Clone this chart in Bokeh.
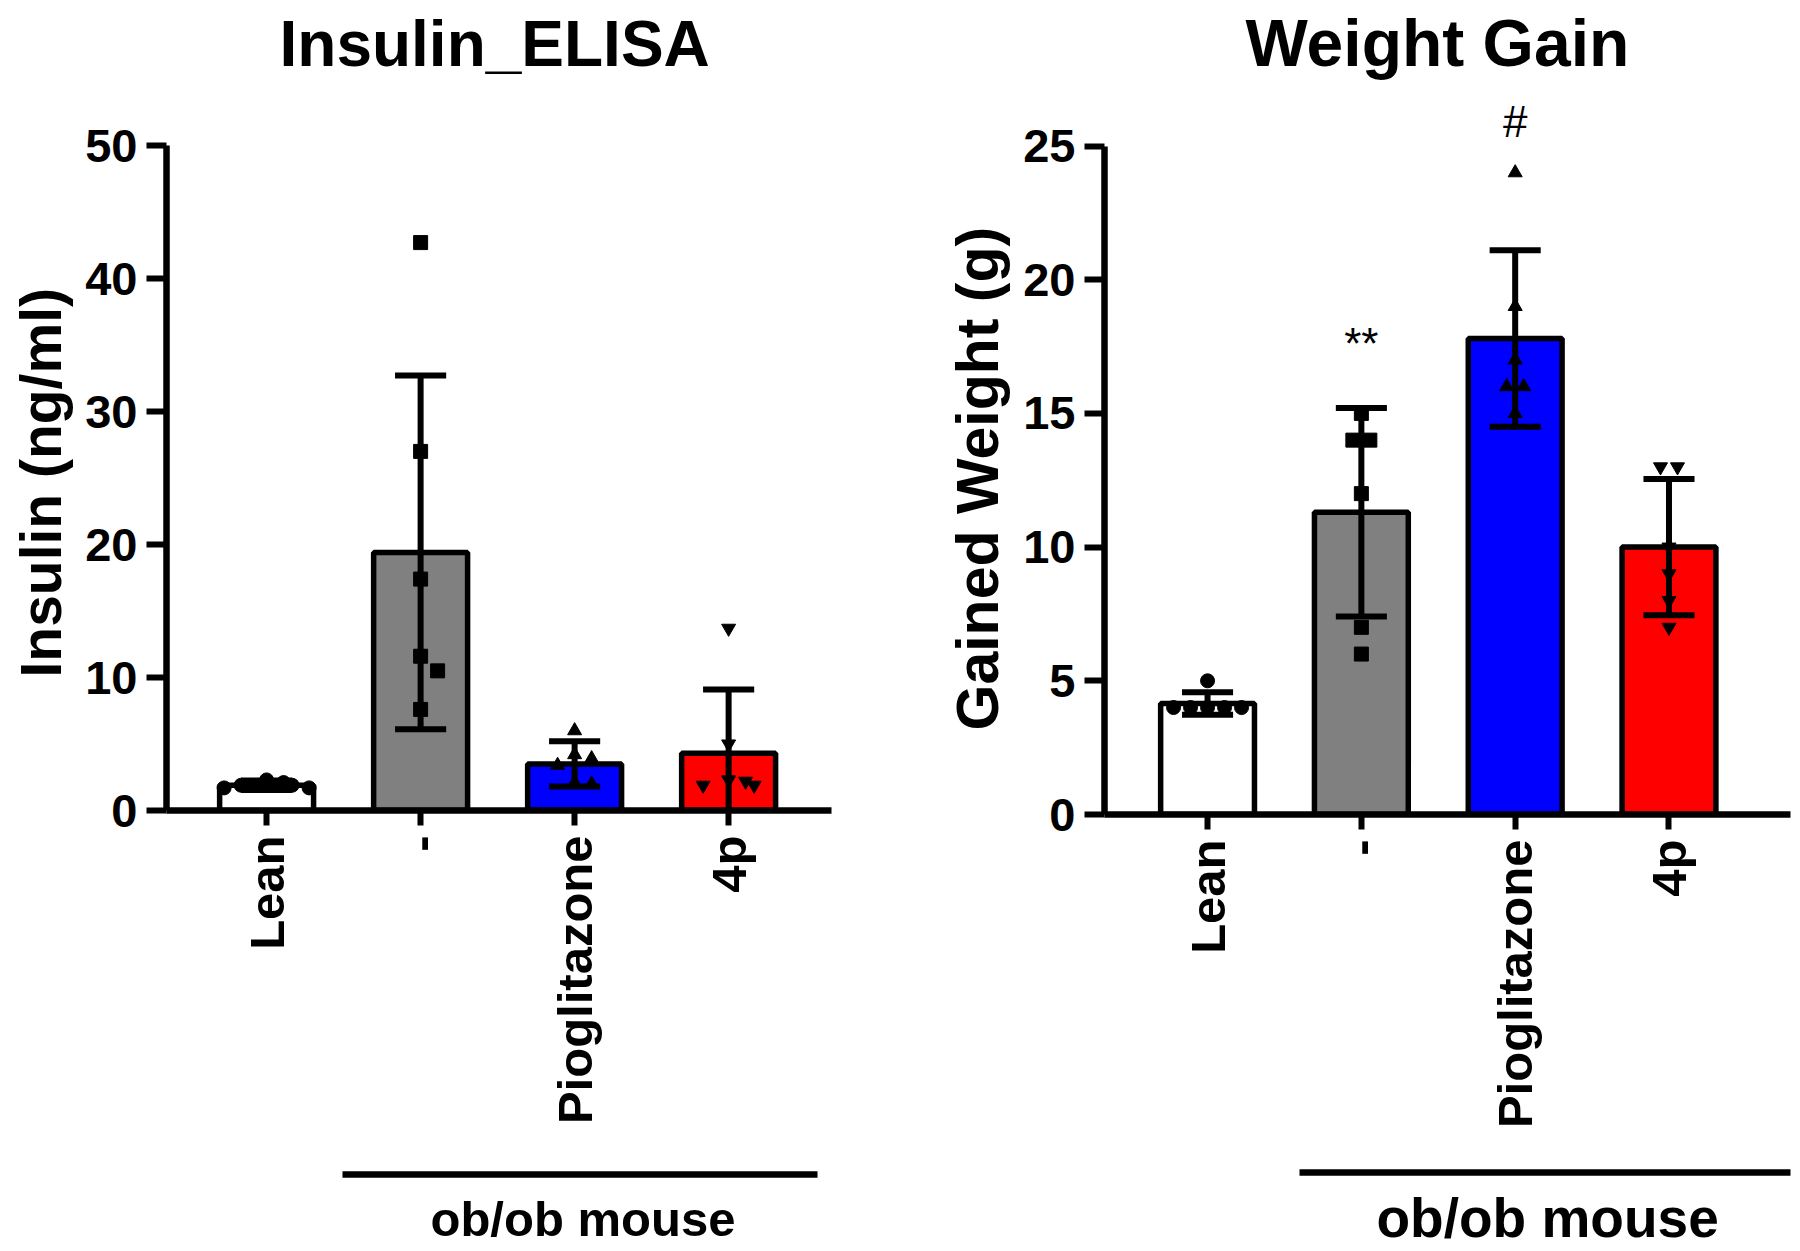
import math
import numpy as np
from bokeh.plotting import figure
from bokeh.models import FixedTicker, LinearAxis, Range1d, ColumnDataSource, Title
from bokeh.layouts import row
from bokeh.embed import file_html
from bokeh.resources import INLINE
from bokeh.core.properties import value

# ---------------- data ----------------
groups = ["Lean", "-", "Pioglitazone", "4p"]
bar_colors = ["#FFFFFF", "#808080", "#0000FF", "#FF0000"]
markers = ["circle", "square", "triangle", "inverted_triangle"]
group_caption = "ob/ob mouse"

# Insulin ELISA (ng/ml)
ins_lean = [2.1, 1.9, 1.7, 1.7, 1.9, 2.3]
ins_veh = [42.7, 27.0, 17.4, 11.6, 10.5, 7.6]
ins_pio = [6.0, 4.2, 3.9, 3.4, 2.1, 2.0]
ins_4p = [13.7, 5.0, 2.2, 1.9, 1.9, 2.3]
ins_mean = [1.9, 19.4, 3.5, 4.3]
ins_sd = [0.35, 13.3, 1.7, 4.8]
ins_ticks = [0, 10, 20, 30, 40, 50]

# Weight gain (g)
wg_lean = [5, 4, 4, 4, 4, 4]
wg_veh = [15, 14, 14, 12, 7, 6]
wg_pio = [24, 19, 17, 16, 16, 15]
wg_4p = [13, 13, 10, 9, 8, 7]
wg_mean = [4.15, 11.3, 17.8, 10.0]
wg_sd = [0.42, 3.9, 3.3, 2.55]
wg_ticks = [0, 5, 10, 15, 20, 25]
wg_sig = ["", "**", "#", ""]
wg_sig_y = [None, 17.6, 25.9, None]

FONT = "Liberation Sans"


def swarm(vals, px_per_unit, d):
    """Simple beeswarm: horizontal pixel offsets so markers do not overlap."""
    vals = np.asarray(vals, dtype=float)
    order = np.argsort(-vals, kind="stable")
    placed = []
    offs = np.zeros(len(vals))
    cands = [0.0]
    for j in range(1, 12):
        cands += [j * d, -j * d]
    for i in order:
        y = vals[i] * px_per_unit
        for c in cands:
            if all((c - px) ** 2 + (y - py) ** 2 >= (d * 0.98) ** 2 for py, px in placed):
                break
        offs[i] = c
        placed.append((y, c))
    for v in np.unique(vals):
        m = vals == v
        if m.sum() > 1:
            offs[m] -= offs[m].mean()
    return offs


def build(cfg, pts, means, sds, sig=None, sig_y=None):
    x_start, x_end = cfg["xr"]
    frame_w, frame_h, y_end = cfg["fw"], cfg["fh"], cfg["yend"]
    p = figure(frame_width=frame_w, frame_height=frame_h,
               x_range=Range1d(x_start, x_end), y_range=Range1d(0, y_end),
               output_backend="svg", toolbar_location=None,
               min_border_left=cfg["bl"], min_border_right=cfg["br"],
               min_border_top=cfg["bt"], min_border_bottom=0)
    p.xgrid.visible = False
    p.ygrid.visible = False
    p.outline_line_color = None
    p.background_fill_color = "white"
    p.border_fill_color = "white"

    p.title.text = cfg["title"]
    p.title.text_font = FONT
    p.title.text_font_size = cfg["title_size"]
    p.title.text_font_style = "bold"
    p.title.text_color = "black"
    p.title.align = "left"
    p.title.offset = cfg["title_off"]
    p.title.standoff = 0

    px_per_unit = frame_h / y_end
    px_per_x = frame_w / (x_end - x_start)
    idx = list(range(len(groups)))
    lo = [m - s for m, s in zip(means, sds)]
    hi = [m + s for m, s in zip(means, sds)]
    cap = 0.166
    src = ColumnDataSource(dict(x=idx, top=means, color=bar_colors, lo=lo, hi=hi,
                                xl=[i - cap for i in idx], xr=[i + cap for i in idx]))
    p.vbar(x="x", top="top", bottom=0, width=0.61, fill_color="color",
           line_color="black", line_width=5.5, source=src)
    p.segment(x0="x", y0="lo", x1="x", y1="hi", line_color="black", line_width=6, source=src)
    p.segment(x0="xl", y0="hi", x1="xr", y1="hi", line_color="black", line_width=6, source=src)
    p.segment(x0="xl", y0="lo", x1="xr", y1="lo", line_color="black", line_width=6, source=src)

    for i, vals in enumerate(pts):
        offs = swarm(vals, px_per_unit, 17.0) / px_per_x
        p.scatter(x=[i + o for o in offs], y=vals, marker=markers[i], size=14,
                  fill_color="black", line_color="black", line_width=1)

    if sig is not None:
        sx = [i for i in idx if sig[i]]
        p.text(x=sx, y=[sig_y[i] for i in sx], text=[sig[i] for i in sx],
               text_font=value(FONT), text_font_size=value("44px"),
               text_align="center", text_baseline="alphabetic", text_color="black")

    yax = p.yaxis[0]
    yax.ticker = FixedTicker(ticks=cfg["ticks"])
    yax.bounds = (0, cfg["ytop"])
    yax.major_label_text_font = FONT
    yax.major_label_text_font_size = "47px"
    yax.major_label_text_font_style = "bold"
    yax.major_label_text_color = "black"
    yax.major_label_standoff = 9
    yax.major_tick_out = 20
    yax.major_tick_in = 0
    yax.minor_tick_out = 0
    yax.minor_tick_in = 0
    yax.axis_line_width = 6.5
    yax.major_tick_line_width = 6
    yax.axis_line_color = "black"
    yax.major_tick_line_color = "black"

    xax = p.xaxis[0]
    xax.ticker = FixedTicker(ticks=idx)
    xax.major_label_overrides = {i: g for i, g in enumerate(groups)}
    xax.major_label_orientation = math.pi / 2
    xax.major_label_text_font = FONT
    xax.major_label_text_font_size = "49px"
    xax.major_label_text_font_style = "bold"
    xax.major_label_text_color = "black"
    xax.major_label_standoff = 10
    xax.major_tick_out = 15
    xax.major_tick_in = 0
    xax.minor_tick_out = 0
    xax.minor_tick_in = 0
    xax.axis_line_width = 6.5
    xax.major_tick_line_width = 6
    xax.axis_line_color = "black"
    xax.major_tick_line_color = "black"
    xax.axis_label = " "
    xax.axis_label_text_font_size = "20px"
    xax.axis_label_standoff = cfg["gap"]

    # group bar ("ob/ob mouse" line) as a bounded axis rule
    grp = LinearAxis(ticker=FixedTicker(ticks=[]), bounds=cfg["grp"],
                     axis_line_width=6.5, axis_line_color="black",
                     major_tick_out=0, major_tick_in=0, minor_tick_out=0, minor_tick_in=0,
                     major_label_text_font_size="0px",
                     axis_label=" ", axis_label_text_font_size="2px",
                     axis_label_standoff=cfg["cap_gap"])
    p.add_layout(grp, "below")

    # y axis title (left side, offset along the axis so it centres on 0..top)
    p.add_layout(Title(text=cfg["ylabel"], align="left", offset=cfg["ylab_off"],
                       vertical_align="top", text_font=FONT,
                       text_font_size=cfg["ylab_size"], text_font_style="bold",
                       text_color="black", standoff=16), "left")
    # group caption below the line
    p.add_layout(Title(text=group_caption, align="left", offset=cfg["cap_off"],
                       vertical_align="top", text_font=FONT,
                       text_font_size=cfg["cap_size"], text_font_style="bold",
                       text_color="black", standoff=0), "below")
    return p


cfg1 = dict(title="Insulin_ELISA", ylabel="Insulin (ng/ml)", ticks=ins_ticks, ytop=50,
            xr=(-0.65, 3.668), fw=665, fh=731, yend=731 / 13.3,
            bl=164, br=100, bt=79, gap=22, grp=(0.49, 3.58), cap_gap=12,
            title_size="64px", title_off=113, ylab_off=133, ylab_size="57px",
            cap_off=264, cap_size="49px")
cfg2 = dict(title="Weight Gain", ylabel="Gained Weight (g)", ticks=wg_ticks, ytop=25,
            xr=(-0.67, 3.79), fw=686, fh=735, yend=735 / 26.74,
            bl=173, br=2, bt=79, gap=16, grp=(0.60, 3.80), cap_gap=9,
            title_size="66px", title_off=141, ylab_off=84, ylab_size="59px",
            cap_off=272, cap_size="55px")

p1 = build(cfg1, [ins_lean, ins_veh, ins_pio, ins_4p], ins_mean, ins_sd)
p2 = build(cfg2, [wg_lean, wg_veh, wg_pio, wg_4p], wg_mean, wg_sd,
           sig=wg_sig, sig_y=wg_sig_y)

layout = row(p1, p2, spacing=0)
open("out.html", "w").write(file_html(layout, INLINE))
